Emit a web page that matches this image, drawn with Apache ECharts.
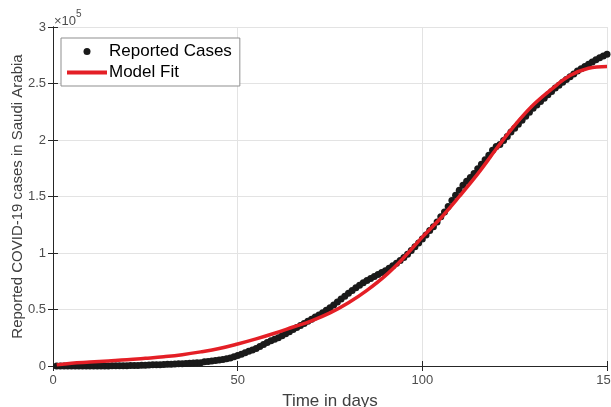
<!DOCTYPE html>
<html>
<head>
<meta charset="utf-8">
<script src="https://cdn.jsdelivr.net/npm/echarts@6/dist/echarts.min.js"></script>
<style>
  html, body { margin: 0; padding: 0; background: #fff; }
  #chart { width: 611px; height: 407px; }
</style>
</head>
<body>
<div id="chart"></div>
<script>
// reported cumulative cases, day 1..150
const reportedCases = [
  0, 0, 0, 0, 5, 5, 11, 11, 15, 15,
  20, 21, 45, 62, 103, 118, 133, 171, 238, 274,
  344, 392, 511, 562, 767, 900, 1012, 1104, 1203, 1299,
  1453, 1563, 1720, 1885, 2039, 2179, 2402, 2605, 2795, 2932,
  3651, 4033, 4462, 4934, 5369, 5862, 6380, 7142, 8274, 9362,
  10484, 11800, 13000, 14200, 15500, 17200, 19000, 20800, 22300, 23700,
  25000, 26800, 28600, 30400, 32200, 34000, 35800, 37600, 39500, 41400,
  43300, 45200, 47200, 49300, 51500, 54000, 56600, 59200, 61800, 64300,
  66800, 69200, 71500, 73600, 75600, 77500, 79300, 81000, 82700, 84400,
  86500, 88700, 91000, 93400, 96000, 99000, 102200, 105500, 108800, 112288,
  116021, 119942, 123308, 127541, 132048, 136315, 141234, 146500, 151000, 155500,
  160000, 163500, 166800, 170300, 174577, 178504, 182493, 186436, 190823, 194225,
  196000, 199500, 203000, 207000, 210500, 214000, 217500, 221000, 224500, 228000,
  231000, 234000, 237000, 240000, 243000, 246000, 248500, 251000, 253500, 256000,
  258500, 261000, 263000, 265000, 267000, 269000, 271000, 272800, 274300, 275900
];

// model fit, sampled every 5 days
const fitDays = [1, 5, 10, 15, 20, 25, 30, 35, 40, 45, 50, 55, 60, 65, 70, 75, 80, 85, 90, 95,
  100, 105, 110, 115, 120, 125, 130, 135, 140, 145, 150];
const fitValues = [1000, 2500, 3500, 4500, 5500, 6800, 8200, 10000, 12500, 15500, 19500, 24000,
  29000, 34500, 40000, 47000, 56000, 67000, 80000, 96000, 114000, 131000, 150000, 170000,
  192000, 213000, 231000, 245000, 257000, 263500, 265000];

const xTicks = [0, 50, 100, 150];
const yTicks = [0, 0.5, 1, 1.5, 2, 2.5, 3];

const chart = echarts.init(document.getElementById('chart'));

const axisColor = '#262626';
const labelColor = '#4d4d4d';
const gridColor = '#e3e3e3';
const font = 'Liberation Sans, Arial, Helvetica, sans-serif';

const caseData = reportedCases.map((v, i) => [i + 1, v]);
const fitData = fitDays.map((d, i) => [d, fitValues[i]]);

chart.setOption({
  animation: false,
  textStyle: { fontFamily: font },
  grid: { left: 53, right: 4, top: 27, bottom: 41, containLabel: false, outerBoundsMode: 'none' },
  legend: {
    left: 61, top: 38,
    orient: 'vertical',
    backgroundColor: '#fff',
    borderColor: '#8f8f8f',
    borderWidth: 1,
    borderRadius: 0,
    padding: [5, 8, 5, 6],
    itemGap: 4,
    itemWidth: 40,
    itemHeight: 7,
    textStyle: { fontSize: 17, color: '#000', fontFamily: font, padding: [0, 0, 0, -3] },
    data: [
      { name: 'Reported Cases', icon: 'circle', itemStyle: { color: '#1a1a1a', opacity: 1 } },
      { name: 'Model Fit', icon: 'path://M0,0L40,0L40,4L0,4Z', itemStyle: { color: '#e41f26' } }
    ]
  },
  graphic: [{
    type: 'text',
    left: 54, top: 9,
    style: {
      text: '{a|×10}{b|5}',
      rich: {
        a: { fontSize: 13, fill: labelColor, fontFamily: font, padding: [6, 0, 0, 0] },
        b: { fontSize: 10, fill: labelColor, fontFamily: font, verticalAlign: 'top' }
      }
    }
  }],
  xAxis: [{
    type: 'value', min: 0, max: 150, interval: 50,
    name: 'Time in days', nameLocation: 'middle', nameGap: 27, nameMoveOverlap: false,
    nameTextStyle: { fontSize: 17, color: '#404040', fontFamily: font },
    axisLine: { lineStyle: { color: axisColor, width: 1 } },
    axisTick: { inside: true, length: 5, lineStyle: { color: axisColor } },
    axisLabel: {
      margin: 8, fontSize: 13, color: labelColor, fontFamily: font,
      formatter: v => xTicks.includes(v) ? String(v) : ''
    },
    splitLine: { show: true, lineStyle: { color: gridColor, width: 1 } }
  }, {
    type: 'value', min: 0, max: 150, interval: 50, position: 'top',
    axisLine: { show: true, lineStyle: { color: axisColor, width: 1 } },
    axisTick: { inside: true, length: 5, lineStyle: { color: axisColor } },
    axisLabel: { show: false },
    splitLine: { show: false }
  }],
  yAxis: [{
    type: 'value', min: 0, max: 300000, interval: 50000,
    name: 'Reported COVID-19 cases in Saudi Arabia', nameLocation: 'middle', nameGap: 28,
    nameMoveOverlap: false,
    nameTextStyle: { fontSize: 15, color: '#404040', fontFamily: font },
    axisLine: { show: true, lineStyle: { color: axisColor, width: 1 } },
    axisTick: { show: true, inside: true, length: 5, lineStyle: { color: axisColor } },
    axisLabel: {
      margin: 7, fontSize: 13, color: labelColor, fontFamily: font,
      formatter: v => {
        const t = v / 100000;
        return yTicks.includes(t) ? String(t) : '';
      }
    },
    splitLine: { show: true, lineStyle: { color: gridColor, width: 1 } }
  }, {
    type: 'value', min: 0, max: 300000, interval: 50000, position: 'right',
    axisLine: { show: true, lineStyle: { color: axisColor, width: 1 } },
    axisTick: { show: true, inside: true, length: 5, lineStyle: { color: axisColor } },
    axisLabel: { show: false },
    splitLine: { show: false }
  }],
  series: [{
    name: 'Reported Cases',
    type: 'scatter',
    data: caseData,
    symbol: 'circle',
    symbolSize: 7,
    clip: false,
    itemStyle: { color: '#1a1a1a', opacity: 1 },
    z: 2
  }, {
    name: 'Model Fit',
    type: 'line',
    data: fitData,
    smooth: 0.4,
    symbol: 'none',
    clip: false,
    lineStyle: { color: '#e41f26', width: 3.5 },
    itemStyle: { color: '#e41f26' },
    z: 3
  }]
});
</script>
</body>
</html>
